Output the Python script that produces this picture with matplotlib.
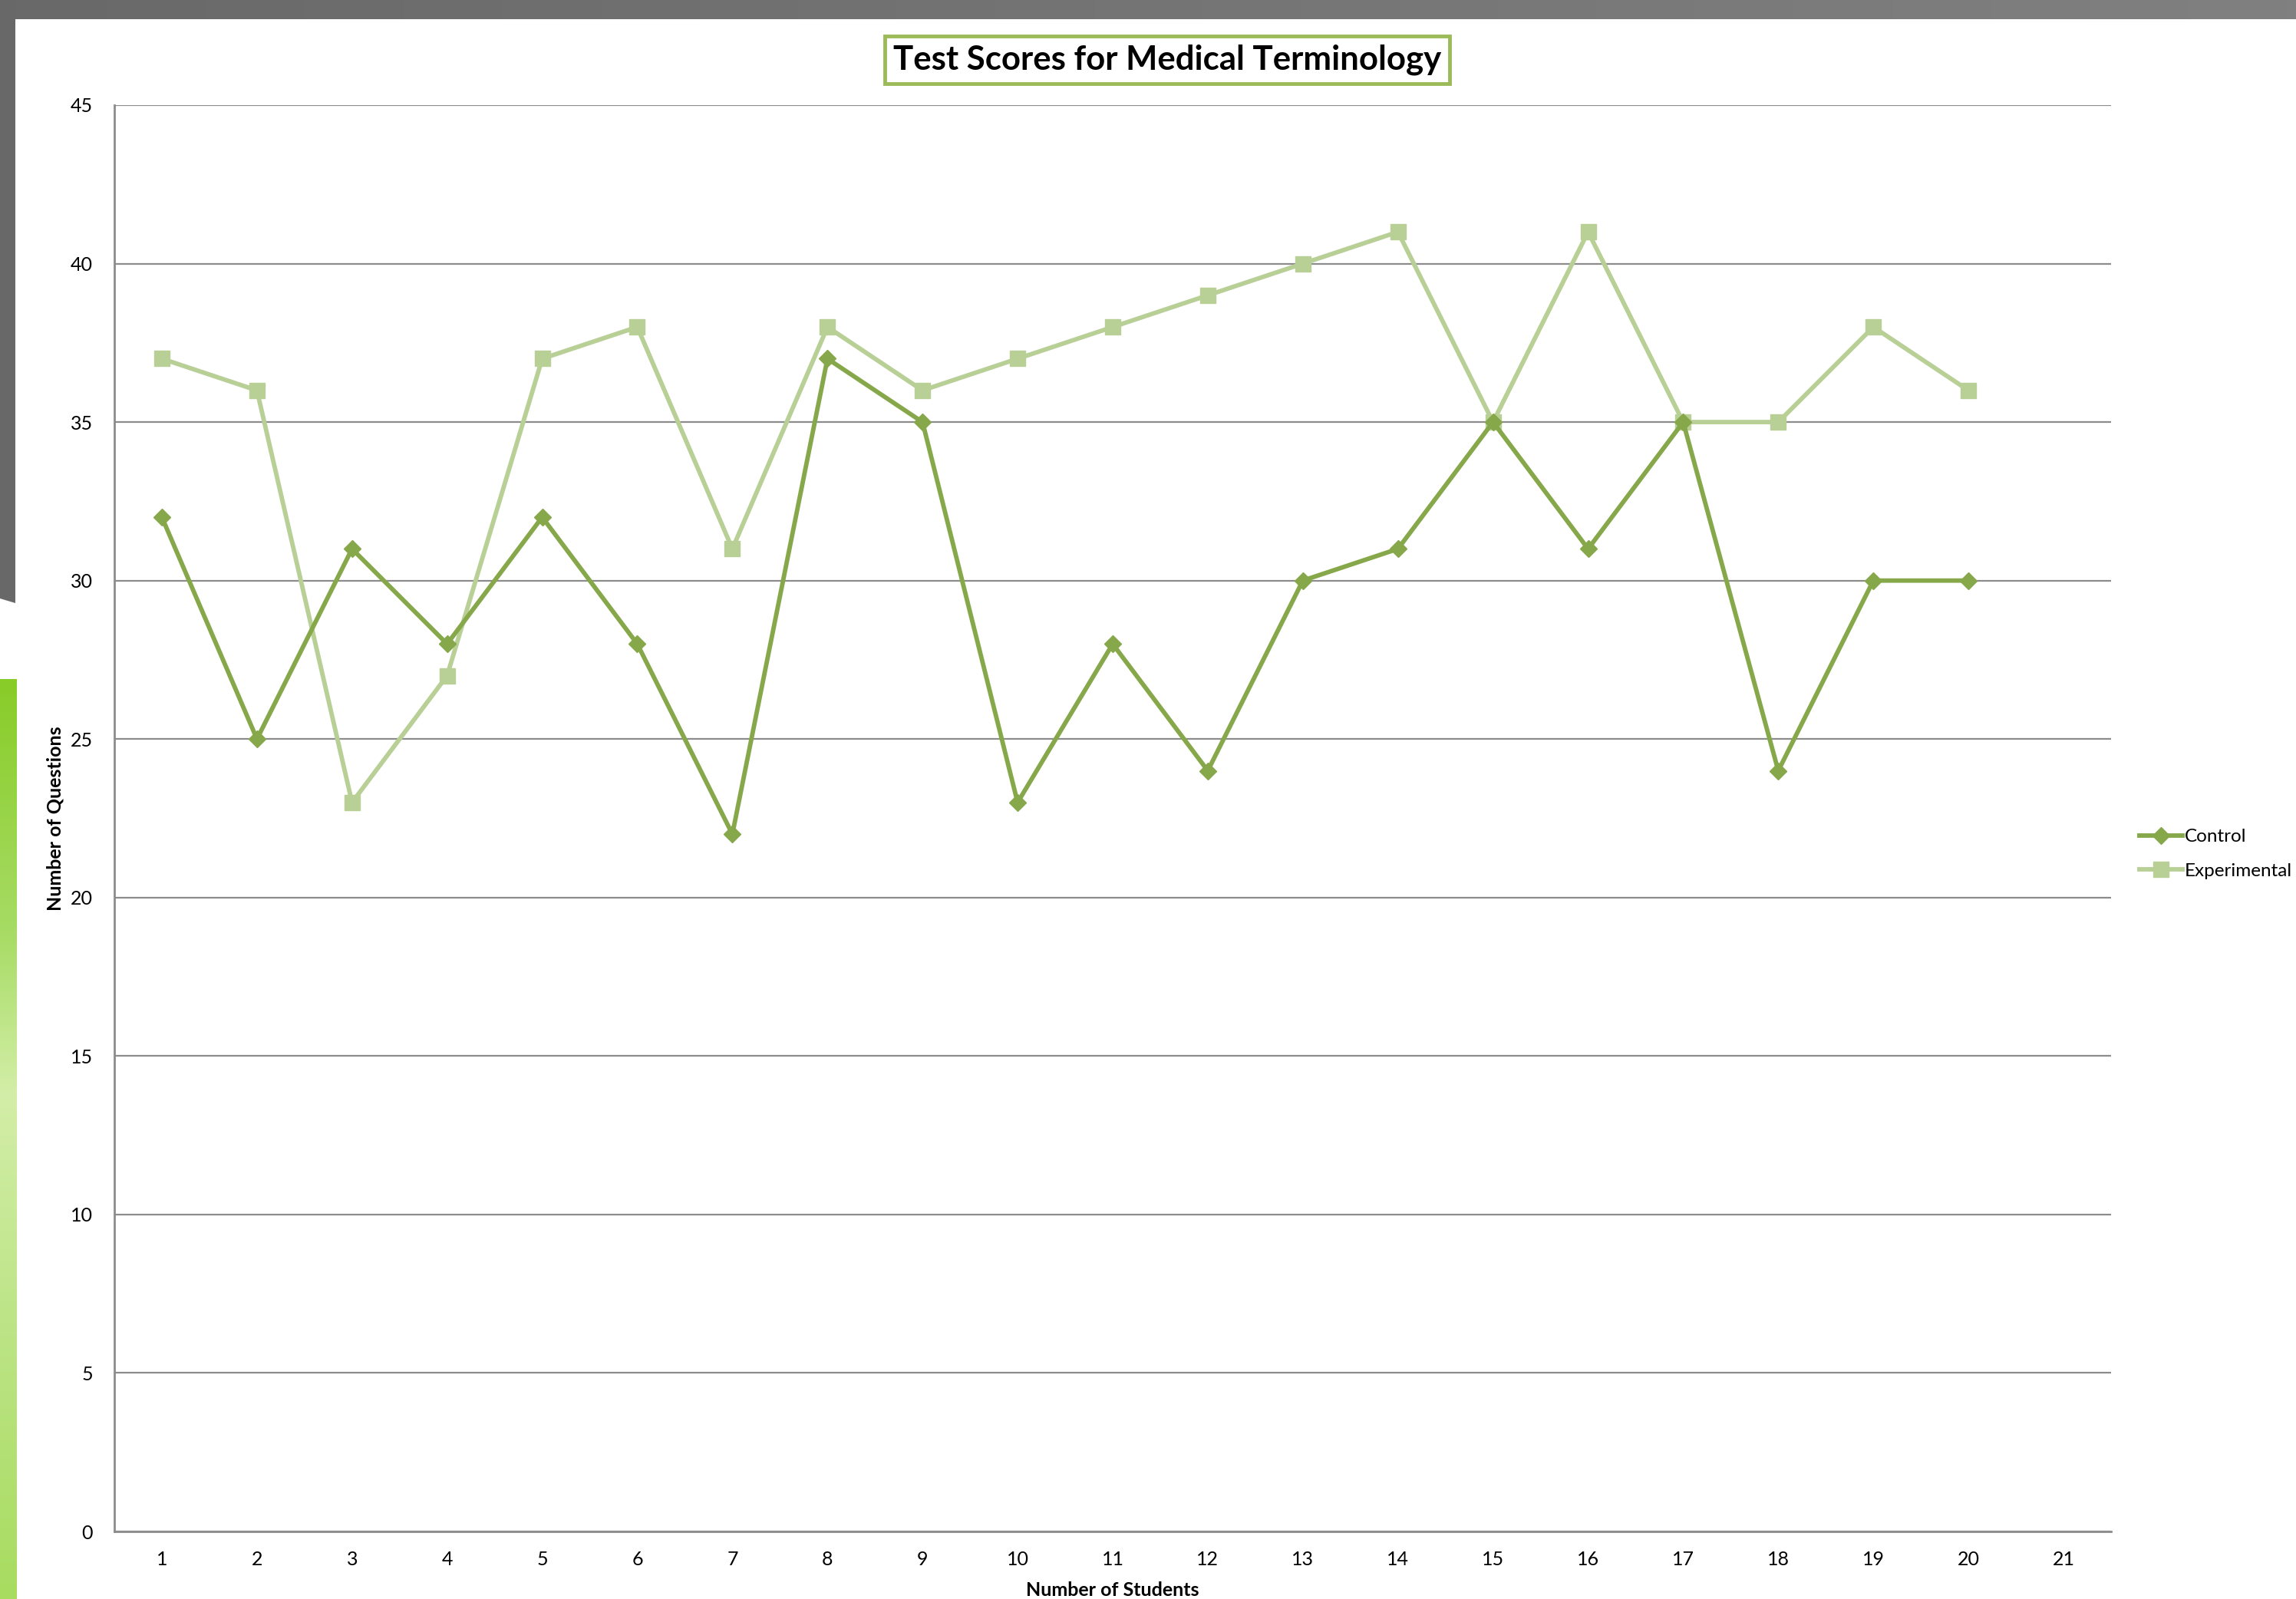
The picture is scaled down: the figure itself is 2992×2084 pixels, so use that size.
import numpy as np
import matplotlib
matplotlib.use("Agg")
import matplotlib.pyplot as plt
from matplotlib.patches import Polygon
from matplotlib.lines import Line2D

# ---- data ----
students = list(range(1, 21))
control = [32, 25, 31, 28, 32, 28, 22, 37, 35, 23, 28, 24, 30, 31, 35, 31, 35, 24, 30, 30]
experimental = [37, 36, 23, 27, 37, 38, 31, 38, 36, 37, 38, 39, 40, 41, 35, 41, 35, 35, 38, 36]
x_ticks = list(range(1, 22))
y_ticks = list(range(0, 50, 5))

title = "Test Scores for Medical Terminology"
xlabel = "Number of Students"
ylabel = "Number of Questions"
series_names = ["Control", "Experimental"]

# ---- style ----
plt.rcParams['font.family'] = ['Lato', 'DejaVu Sans']
W, H = 2992, 2084
DPI = 100
fig = plt.figure(figsize=(W / DPI, H / DPI), dpi=DPI)
fig.patch.set_facecolor("white")

def fx(px):
    return px / W

def fy(py):
    return 1 - py / H

# ---- decorative background ----
band = fig.add_axes([0, fy(25), 1, 25 / H])
band.imshow(np.linspace(0, 1, 256)[None, :], aspect='auto',
            cmap=matplotlib.colors.LinearSegmentedColormap.from_list('g', ['#696969', '#808080']),
            extent=[0, 1, 0, 1])
band.axis('off')
fig.add_artist(Polygon([[0, 1], [fx(20), 1], [fx(20), fy(786)], [0, fy(780)]],
                       closed=True, transform=fig.transFigure, facecolor='#686868', edgecolor='none'))
gax = fig.add_axes([0, 0, fx(22), 1 - 885 / H])
cm = matplotlib.colors.LinearSegmentedColormap.from_list(
    'gr', [(0.0, '#88CC28'), (0.28, '#A8DC66'), (0.45, '#D3EEA8'), (0.7, '#BDE487'), (1.0, '#A8DC60')])
gax.imshow(np.linspace(0, 1, 512)[:, None], aspect='auto', cmap=cm, extent=[0, 1, 0, 1])
gax.axis('off')

# ---- main axes ----
ax = fig.add_axes([fx(149), fy(1996), fx(2751) - fx(149), fy(137) - fy(1996)])
c_ctrl = '#86A84A'
c_exp = '#B8CF96'
ax.plot(students, control, color=c_ctrl, lw=4.2, marker='D', ms=11, mec=c_ctrl, mfc=c_ctrl, zorder=4,
        label=series_names[0])
ax.plot(students, experimental, color=c_exp, lw=4.2, marker='s', ms=14, mec=c_exp, mfc=c_exp, zorder=3,
        label=series_names[1])

ax.set_xlim(0.5, 21.5)
ax.set_ylim(0, 45)
ax.set_xticks(x_ticks)
ax.set_yticks(y_ticks)
ax.tick_params(length=0, labelsize=18, pad=20)
ax.tick_params(axis='x', pad=18)
ax.yaxis.grid(True, color='#8C8C8C', lw=1.6)
ax.set_axisbelow(True)
for s in ['top', 'right']:
    ax.spines[s].set_visible(False)
for s in ['left', 'bottom']:
    ax.spines[s].set_color('#8C8C8C')
    ax.spines[s].set_linewidth(2)
ax.set_xlabel(xlabel, fontsize=18, fontweight='bold', labelpad=12)
ax.set_ylabel(ylabel, fontsize=18, fontweight='bold', labelpad=6)

fig.text(fx(1521), fy(78), title, ha='center', va='center', fontsize=31.5, fontweight='bold',
         bbox=dict(boxstyle='square,pad=0.24', fc='white', ec='#9BBB59', lw=3.5))

handles = [Line2D([], [], color=c_ctrl, lw=4.2, marker='D', ms=11),
           Line2D([], [], color=c_exp, lw=4.2, marker='s', ms=14)]
fig.legend(handles, series_names, loc='center left', bbox_to_anchor=(fx(2788), fy(1113)),
           frameon=False, fontsize=17.5, handlelength=2.3, handletextpad=0.12, labelspacing=0.95,
           borderaxespad=0, borderpad=0)

fig.savefig('out.png', dpi=DPI)
